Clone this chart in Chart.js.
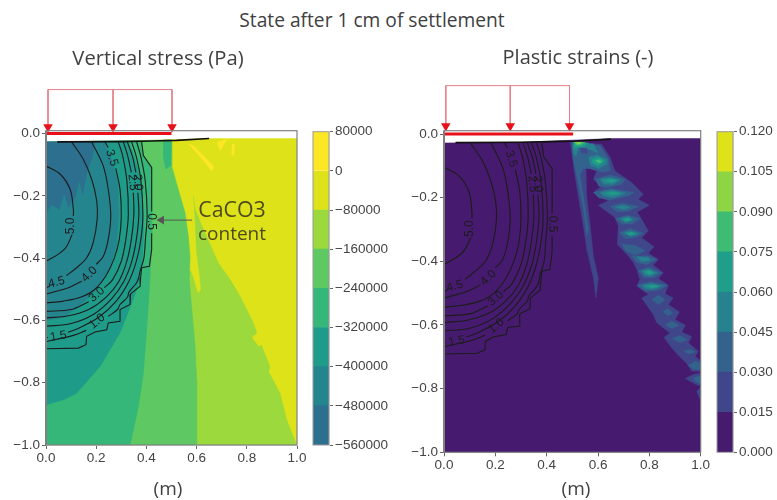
<!DOCTYPE html>
<html>
<head>
<meta charset="utf-8">
<title>State after 1 cm of settlement</title>
<script src="https://cdn.jsdelivr.net/npm/chart.js"></script>
<style>
    html, body { margin: 0; padding: 0; background: #fff; }
    #page { position: relative; width: 777px; height: 500px; overflow: hidden; }
    canvas { position: absolute; filter: blur(0.45px); }
    .txt { position: absolute; color: #404040; font-family: "Open Sans", sans-serif; white-space: nowrap; transform: translate(-50%, -50%); }
</style>
</head>
<body>
<div id="page">
    <canvas id="stressChart" width="312" height="410" style="left:0;top:70px"></canvas>
    <canvas id="stressBar" width="85" height="345" style="left:305px;top:120px"></canvas>
    <canvas id="strainChart" width="316" height="420" style="left:398px;top:70px"></canvas>
    <canvas id="strainBar" width="67" height="350" style="left:710px;top:120px"></canvas>
    <div class="txt" style="left:372px;top:19px;font-size:19.2px">State after 1 cm of settlement</div>
    <div class="txt" style="left:158px;top:57px;font-size:20.2px">Vertical stress (Pa)</div>
    <div class="txt" style="left:578px;top:56px;font-size:20px">Plastic strains (-)</div>
    <div class="txt" style="left:168px;top:488px;font-size:19px">(m)</div>
    <div class="txt" style="left:576px;top:488px;font-size:19px">(m)</div>
    <div class="txt" style="left:232px;top:208px;font-size:21.3px;color:#4f4a1c">CaCO3</div>
    <div class="txt" style="left:232px;top:233px;font-size:19px;color:#4f4a1c">content</div>
</div>
<script>
// tick labels
const xTicks = [0, 0.2, 0.4, 0.6, 0.8, 1];
const yTicks = [0, -0.2, -0.4, -0.6, -0.8, -1];

// colour bars
const stressLevels = [-560000, -480000, -400000, -320000, -240000, -160000, -80000, 0, 80000];
const stressColors = ["#2c6f8e", "#25858e", "#1e9c89", "#35b779", "#5ec962", "#9bd93c", "#dde318", "#fde725"];
const strainLevels = [0, 0.015, 0.03, 0.045, 0.06, 0.075, 0.09, 0.105, 0.12];
const strainColors = ["#461a6e", "#40468a", "#33638d", "#26828e", "#1f9e89", "#3fbc73", "#8dd544", "#dde318"];

// vertical stress regions as [x, y]
const stressDomain = [[0, -0.027], [0.3, -0.025], [0.65, -0.016], [1, -0.016], [1, -1], [0, -1]];
const stressPeaks = [
    [[0.568, -0.034], [0.588, -0.04], [0.668, -0.105], [0.661, -0.12], [0.628, -0.088]],
    [[0.681, -0.029], [0.721, -0.018], [0.693, -0.056]],
    [[0.741, -0.034], [0.752, -0.034], [0.748, -0.072], [0.739, -0.066]]
];
const stressLime = [[0.587, -0.2], [0.594, -0.243], [0.627, -0.308], [0.686, -0.415], [0.733, -0.469], [0.773, -0.522],
    [0.826, -0.608], [0.84, -0.64], [0.82, -0.655], [0.848, -0.685], [0.858, -0.68], [0.892, -0.748], [0.887, -0.765],
    [0.932, -0.833], [0.959, -0.92], [0.998, -1], [0, -1], [0, -0.45], [0.56, -0.45], [0.575, -0.44], [0.585, -0.46],
    [0.605, -0.515], [0.618, -0.5], [0.61, -0.44], [0.6, -0.38], [0.595, -0.3]];
const stressGreen = [[0, -0.027], [0.5, -0.021], [0.501, -0.104], [0.527, -0.179], [0.554, -0.254], [0.567, -0.329],
    [0.574, -0.394], [0.571, -0.469], [0.58, -0.555], [0.594, -0.683], [0.6, -0.79], [0.6, -1], [0, -1]];
const stressMedium = [[0, -0.027], [0.375, -0.024], [0.388, -0.07], [0.421, -0.11], [0.421, -0.33], [0.414, -0.469],
    [0.401, -0.63], [0.388, -0.769], [0.368, -0.877], [0.335, -1], [0, -1]];
const stressSpur = [[0.467, -0.021], [0.5, -0.021], [0.497, -0.104], [0.477, -0.114], [0.467, -0.071]];
const stressTeal = [[0, -0.027], [0.327, -0.024], [0.355, -0.08], [0.38, -0.15], [0.39, -0.3], [0.385, -0.4], [0.375, -0.469],
    [0.347, -0.533], [0.295, -0.64], [0.215, -0.748], [0.122, -0.834], [0.069, -0.855], [0, -0.871]];
const stressBlueTeal = [[0, -0.6], [0.07, -0.59], [0.14, -0.55], [0.2, -0.5], [0.25, -0.44], [0.28, -0.36], [0.29, -0.26],
    [0.285, -0.15], [0.26, -0.08], [0.235, -0.027], [0, -0.027]];
const stressDeep = [[0, -0.027], [0.195, -0.027], [0.182, -0.082], [0.162, -0.125], [0.146, -0.195], [0.133, -0.147],
    [0.116, -0.205], [0.089, -0.237], [0.072, -0.189], [0.053, -0.243], [0.023, -0.227], [0, -0.253]];

// plastic strain regions, one list per colour band
const strainDomain = [[0, -0.028], [0.3, -0.026], [0.66, -0.014], [1, -0.014], [1, -1], [0, -1]];
const plumeBand2 = [
    [[0.491, -0.026], [0.614, -0.032], [0.647, -0.073], [0.666, -0.116], [0.731, -0.152], [0.776, -0.189], [0.757, -0.205],
     [0.8, -0.224], [0.753, -0.245], [0.77, -0.268], [0.796, -0.305], [0.77, -0.326], [0.818, -0.354], [0.796, -0.375],
     [0.835, -0.394], [0.815, -0.412], [0.855, -0.436], [0.835, -0.454], [0.874, -0.475], [0.861, -0.502], [0.893, -0.515],
     [0.874, -0.536], [0.917, -0.559], [0.9, -0.583], [0.941, -0.601], [0.926, -0.622], [0.965, -0.636], [0.952, -0.656],
     [0.991, -0.683], [0.978, -0.699], [1, -0.712], [1, -0.745], [0.965, -0.745], [0.945, -0.72], [0.919, -0.7], [0.893, -0.678],
     [0.857, -0.639], [0.88, -0.625], [0.829, -0.593], [0.815, -0.567], [0.77, -0.515], [0.796, -0.504], [0.751, -0.478],
     [0.763, -0.457], [0.751, -0.425], [0.738, -0.404], [0.712, -0.378], [0.675, -0.347], [0.679, -0.289], [0.666, -0.262],
     [0.601, -0.224], [0.64, -0.21], [0.582, -0.184], [0.614, -0.163], [0.582, -0.142], [0.595, -0.116], [0.553, -0.105],
     [0.556, -0.194], [0.571, -0.299], [0.582, -0.384], [0.601, -0.452], [0.592, -0.515], [0.582, -0.452], [0.556, -0.362],
     [0.543, -0.289], [0.523, -0.194], [0.504, -0.1]],
    [[0.939, -0.769], [0.972, -0.755], [1, -0.752], [1, -0.792], [0.975, -0.785]],
    [[0.984, -0.809], [1, -0.795], [1, -0.84]]
];
const plumeBand3 = [
    [[0.498, -0.028], [0.608, -0.037], [0.641, -0.079], [0.647, -0.115], [0.615, -0.119], [0.569, -0.108], [0.543, -0.108],
     [0.53, -0.126], [0.546, -0.21], [0.563, -0.299], [0.556, -0.32], [0.543, -0.236], [0.517, -0.131], [0.501, -0.068]],
    [[0.589, -0.142], [0.647, -0.129], [0.706, -0.142], [0.693, -0.158], [0.634, -0.168], [0.602, -0.163]],
    [[0.582, -0.184], [0.647, -0.171], [0.741, -0.184], [0.719, -0.194], [0.647, -0.207], [0.602, -0.2]],
    [[0.647, -0.228], [0.693, -0.217], [0.758, -0.228], [0.719, -0.242], [0.673, -0.245]],
    [[0.667, -0.266], [0.712, -0.255], [0.764, -0.266], [0.732, -0.283], [0.693, -0.283]],
    [[0.683, -0.31], [0.725, -0.297], [0.777, -0.312], [0.745, -0.325], [0.706, -0.329]],
    [[0.693, -0.346], [0.745, -0.35], [0.784, -0.367], [0.745, -0.381], [0.706, -0.367]],
    [[0.731, -0.383], [0.796, -0.383], [0.829, -0.394], [0.79, -0.41], [0.751, -0.404]],
    [[0.757, -0.43], [0.796, -0.418], [0.848, -0.436], [0.816, -0.451], [0.777, -0.451]],
    [[0.753, -0.475], [0.803, -0.464], [0.87, -0.475], [0.835, -0.491], [0.783, -0.494]],
    [[0.809, -0.52], [0.835, -0.506], [0.861, -0.52], [0.835, -0.536]],
    [[0.852, -0.559], [0.87, -0.548], [0.891, -0.562], [0.874, -0.572]],
    [[0.861, -0.6], [0.887, -0.588], [0.917, -0.601], [0.887, -0.611]],
    [[0.887, -0.643], [0.917, -0.633], [0.948, -0.646], [0.917, -0.655]],
    [[0.933, -0.682], [0.959, -0.677], [0.978, -0.685], [0.952, -0.691]],
    [[0.952, -0.727], [0.978, -0.714], [1, -0.719], [1, -0.74], [0.972, -0.74]],
    [[0.97, -0.765], [1, -0.76], [1, -0.785], [0.98, -0.778]]
];
const plumeBand4 = [
    [[0.501, -0.028], [0.582, -0.031], [0.6, -0.06], [0.57, -0.048], [0.525, -0.042], [0.514, -0.07], [0.503, -0.06]],
    [[0.563, -0.073], [0.595, -0.066], [0.634, -0.079], [0.634, -0.095], [0.602, -0.108], [0.569, -0.098]],
    [[0.608, -0.142], [0.647, -0.137], [0.686, -0.144], [0.66, -0.158], [0.621, -0.158]],
    [[0.608, -0.184], [0.654, -0.176], [0.706, -0.186], [0.66, -0.2], [0.621, -0.194]],
    [[0.667, -0.229], [0.699, -0.224], [0.725, -0.231], [0.699, -0.238]],
    [[0.686, -0.266], [0.719, -0.26], [0.738, -0.27], [0.706, -0.278]],
    [[0.699, -0.31], [0.728, -0.305], [0.758, -0.313], [0.725, -0.322]],
    [[0.751, -0.386], [0.796, -0.389], [0.803, -0.397], [0.77, -0.401]],
    [[0.77, -0.43], [0.8, -0.425], [0.829, -0.436], [0.803, -0.446], [0.78, -0.443]],
    [[0.77, -0.476], [0.809, -0.47], [0.848, -0.477], [0.816, -0.488], [0.783, -0.485]]
];
const plumeBand5 = [
    [[0.504, -0.026], [0.563, -0.028], [0.543, -0.039], [0.514, -0.042], [0.507, -0.047]],
    [[0.576, -0.081], [0.602, -0.073], [0.624, -0.084], [0.602, -0.1], [0.579, -0.091]],
    [[0.621, -0.147], [0.654, -0.142], [0.673, -0.147], [0.647, -0.152]],
    [[0.628, -0.186], [0.66, -0.182], [0.686, -0.187], [0.654, -0.192]],
    [[0.699, -0.268], [0.719, -0.265], [0.728, -0.27], [0.709, -0.274]],
    [[0.712, -0.312], [0.732, -0.309], [0.745, -0.314], [0.722, -0.318]],
    [[0.783, -0.433], [0.803, -0.43], [0.816, -0.437], [0.796, -0.441]],
    [[0.787, -0.478], [0.816, -0.475], [0.835, -0.479], [0.809, -0.483]]
];
const plumeBand6 = [
    [[0.507, -0.026], [0.55, -0.026], [0.53, -0.035], [0.513, -0.035]],
    [[0.589, -0.084], [0.605, -0.081], [0.615, -0.087], [0.602, -0.092]]
];
const plumeBand7 = [[[0.51, -0.026], [0.537, -0.026], [0.523, -0.032]]];
const plumeHole = [[0.53, -0.045], [0.556, -0.045], [0.559, -0.06], [0.537, -0.06]];

// CaCO3 contour lines, a null is a break where a label sits
const contour50 = [[0, -0.104], [0.056, -0.13], [0.096, -0.179], [0.109, -0.243], [0.109, -0.265], null, [0.104, -0.325], [0.08, -0.365], [0.048, -0.388], [0, -0.41]];
const contour45 = [[0.102, -0.027], [0.148, -0.082], [0.182, -0.147], [0.202, -0.216], [0.204, -0.275], [0.188, -0.35], [0.162, -0.399], [0.122, -0.431], [0.082, -0.456], null, [0.015, -0.49], [0, -0.495]];
const contour40 = [[0.182, -0.027], [0.228, -0.104], [0.248, -0.179], [0.258, -0.265], [0.248, -0.34], [0.228, -0.395], [0.2, -0.42], null, [0.142, -0.474], [0.089, -0.495], [0, -0.515]];
const contour35 = [[0.235, -0.027], [0.248, -0.045], null, [0.278, -0.112], [0.295, -0.18], [0.3, -0.265], [0.292, -0.34], [0.272, -0.4], [0.24, -0.455], [0.195, -0.5], [0.14, -0.525], [0.07, -0.538], [0, -0.544]];
const contour30 = [[0.288, -0.027], [0.305, -0.07], [0.322, -0.15], [0.328, -0.26], [0.318, -0.34], [0.3, -0.41], [0.265, -0.47], [0.232, -0.495], null, [0.17, -0.54], [0.1, -0.565], [0, -0.571]];
const contour25 = [[0.308, -0.027], [0.325, -0.07], [0.34, -0.125], null, [0.348, -0.19], [0.35, -0.26], [0.34, -0.34], [0.322, -0.41], [0.29, -0.475], [0.24, -0.525], [0.17, -0.565], [0.09, -0.585], [0, -0.592]];
const contour20 = [[0.324, -0.027], [0.345, -0.075], [0.358, -0.125], null, [0.366, -0.19], [0.37, -0.26], [0.36, -0.34], [0.342, -0.41], [0.31, -0.475], [0.262, -0.53], [0.19, -0.58], [0.1, -0.61], [0, -0.619]];
const contour15 = [[0.341, -0.027], [0.36, -0.075], [0.378, -0.15], [0.386, -0.26], [0.378, -0.34], [0.36, -0.41], [0.33, -0.475], [0.278, -0.54], [0.21, -0.59], [0.13, -0.625], [0.088, -0.638], null, [0.008, -0.655], [0, -0.655]];
const contour10 = [[0.361, -0.027], [0.378, -0.075], [0.395, -0.15], [0.403, -0.26], [0.396, -0.34], [0.39, -0.4], [0.375, -0.441], [0.37, -0.46], [0.361, -0.479], [0.33, -0.51], [0.325, -0.525], [0.295, -0.549], [0.285, -0.565], [0.248, -0.587], null, [0.16, -0.632], [0.109, -0.648], [0, -0.668]];
const contour05 = [[0.381, -0.027], [0.388, -0.071], [0.421, -0.109], [0.421, -0.25], null, [0.421, -0.32], [0.421, -0.372], [0.412, -0.426], [0.381, -0.431], [0.377, -0.463], [0.375, -0.49], [0.337, -0.515], [0.335, -0.549], [0.295, -0.565], [0.295, -0.603], [0.248, -0.608], [0.242, -0.63], [0.195, -0.637], [0.162, -0.651], [0.159, -0.678], [0.129, -0.689], [0, -0.691]];
const settlementLine = [[0.045, -0.027], [0.3, -0.026], [0.42, -0.024], [0.52, -0.022], [0.65, -0.016]];

// contour labels: text, x, y, angle in degrees
const contourLabels = [
    ["5.0", 0.1, -0.297, -90], ["4.5", 0.042, -0.478, -15], ["4.0", 0.173, -0.452, -45], ["3.5", 0.262, -0.078, 72],
    ["2.5", 0.345, -0.157, 85], ["2.0", 0.366, -0.157, 85], ["3.0", 0.202, -0.517, -42], ["1.0", 0.204, -0.603, -40],
    ["1.5", 0.049, -0.651, -10], ["0.5", 0.421, -0.283, 90]
];

// load arrows and the CaCO3 pointer
const stressLoadTop = 0.141, stressLoadTip = 0.021, strainLoadTop = 0.152, strainLoadTip = 0.025;
const stressArrowX = [0.008, 0.267, 0.502], strainArrowX = [0.007, 0.258, 0.489];
const stressBar = [[0, 0], [0.5, 0]], strainBar = [[0, 0], [0.503, 0]];
const pointerLine = [[0.582, -0.278], [0.46, -0.278]];

function toPoints(list) {
    return list.map(function (p) { return p ? { x: p[0], y: p[1] } : { x: NaN, y: NaN }; });
}

function region(list, color) {
    return {
        data: toPoints(list), showLine: true, fill: "shape", backgroundColor: color, borderColor: color,
        borderWidth: 0.5, pointRadius: 0, tension: 0
    };
}

function line(list, color, width, tension) {
    return {
        data: toPoints(list), showLine: true, fill: false, borderColor: color,
        borderWidth: width, pointRadius: 0, tension: tension || 0, clip: false
    };
}

function loadSet(arrowX, top, tip, bar) {
    let sets = [line([[arrowX[0], top], [arrowX[2], top]], "#e5808a", 1)];
    arrowX.forEach(function (x) {
        sets.push(line([[x, top], [x, tip]], "#e5808a", 1));
        sets.push({
            data: toPoints([[x, tip]]), pointStyle: "triangle", rotation: 180, pointRadius: 5.5,
            backgroundColor: "#e8101a", borderColor: "#e8101a", borderWidth: 0, clip: false
        });
    });
    sets.push(line(bar, "#e8101a", 3.2));
    return sets;
}

function contourSets() {
    return [contour50, contour45, contour40, contour35, contour30, contour25, contour20, contour15, contour10]
        .map(function (c) { return line(c, "#1c1c1c", 1.1, 0.35); })
        .concat([line(contour05, "#1c1c1c", 1.1), line(settlementLine, "#111", 1.6)]);
}

// draws the frame and the contour labels through the scales
const contourLabelPlugin = {
    id: "contourLabelPlugin",
    afterDatasetsDraw: function (chart) {
        let ctx = chart.ctx, a = chart.chartArea;
        ctx.save();
        ctx.strokeStyle = "#808080";
        ctx.lineWidth = 1.2;
        ctx.strokeRect(a.left, a.top, a.right - a.left, a.bottom - a.top);
        ctx.lineWidth = 2;
        ctx.beginPath();
        ctx.moveTo(a.left, a.top);
        ctx.lineTo(a.left, a.bottom);
        ctx.stroke();
        ctx.fillStyle = "#1c1c1c";
        ctx.font = "12px 'Liberation Sans'";
        ctx.textAlign = "center";
        ctx.textBaseline = "middle";
        contourLabels.forEach(function (l) {
            ctx.save();
            ctx.translate(chart.scales.x.getPixelForValue(l[1]), chart.scales.y.getPixelForValue(l[2]));
            ctx.rotate(l[3] * Math.PI / 180);
            ctx.fillText(l[0], 0, 0);
            ctx.restore();
        });
        ctx.restore();
    }
};

const barFramePlugin = {
    id: "barFramePlugin",
    afterDatasetsDraw: function (chart) {
        let a = chart.chartArea;
        chart.ctx.save();
        chart.ctx.strokeStyle = "#999";
        chart.ctx.strokeRect(a.left, a.top, a.right - a.left, a.bottom - a.top);
        chart.ctx.restore();
    }
};

function signed(v, digits) {
    return (v < 0 ? "\u2212" : "") + Math.abs(v).toFixed(digits);
}

function axisFont() {
    return { family: "'Liberation Sans'", size: 13.5 };
}

function plotChart(id, datasets, yMax, pad, xHeight) {
    return new Chart(document.getElementById(id), {
        type: "scatter",
        data: { datasets: datasets.slice().reverse() },
        options: {
            responsive: false,
            animation: false,
            devicePixelRatio: 1,
            layout: { padding: pad },
            plugins: { legend: { display: false }, tooltip: { enabled: false } },
            scales: {
                x: {
                    type: "linear", min: 0, max: 1,
                    afterBuildTicks: function (s) { s.ticks = xTicks.map(function (v) { return { value: v }; }); },
                    afterFit: function (s) { s.height = xHeight; },
                    grid: { drawOnChartArea: false, tickLength: 4, tickColor: "#666" },
                    ticks: { color: "#444", font: axisFont(), padding: 1, maxRotation: 0, autoSkip: false,
                        callback: function (v) { return signed(v, 1); } }
                },
                y: {
                    type: "linear", min: -1, max: yMax,
                    afterBuildTicks: function (s) { s.ticks = yTicks.map(function (v) { return { value: v }; }); },
                    afterFit: function (s) { s.width = 46; },
                    grid: { drawOnChartArea: false, tickLength: 4, tickColor: "#666" },
                    ticks: { color: "#444", font: axisFont(), padding: 2, autoSkip: false,
                        callback: function (v) { return signed(v, 1); } }
                }
            }
        },
        plugins: [contourLabelPlugin]
    });
}

function colorBar(id, levels, colors, digits, axisWidth, pad) {
    return new Chart(document.getElementById(id), {
        type: "bar",
        data: {
            labels: ["bar"],
            datasets: colors.map(function (c, i) {
                return { data: [[levels[i], levels[i + 1]]], backgroundColor: c, barPercentage: 1, categoryPercentage: 1, grouped: false };
            })
        },
        options: {
            responsive: false,
            animation: false,
            devicePixelRatio: 1,
            layout: { padding: pad },
            plugins: { legend: { display: false }, tooltip: { enabled: false } },
            scales: {
                x: { display: false },
                y: {
                    position: "right", min: levels[0], max: levels[levels.length - 1],
                    afterBuildTicks: function (s) { s.ticks = levels.map(function (v) { return { value: v }; }); },
                    afterFit: function (s) { s.width = axisWidth; },
                    grid: { drawOnChartArea: false, tickLength: 4, tickColor: "#666" },
                    ticks: { color: "#444", font: axisFont(), padding: 2, autoSkip: false,
                        callback: function (v) { return signed(v, digits); } }
                }
            }
        },
        plugins: [barFramePlugin]
    });
}

let stressSets = [region(stressDomain, stressColors[6])]
    .concat(stressPeaks.map(function (p) { return region(p, stressColors[7]); }))
    .concat([
        region(stressLime, stressColors[5]),
        region(stressGreen, stressColors[4]),
        region(stressMedium, stressColors[3]),
        region(stressSpur, stressColors[3]),
        region(stressTeal, stressColors[2]),
        region(stressBlueTeal, stressColors[1]),
        region(stressDeep, stressColors[0])
    ])
    .concat(contourSets())
    .concat([
        line(pointerLine, "#555", 1),
        { data: toPoints([pointerLine[1]]), pointStyle: "triangle", rotation: 270, pointRadius: 5, backgroundColor: "#555", borderWidth: 0 }
    ])
    .concat(loadSet(stressArrowX, stressLoadTop, stressLoadTip, stressBar));

let strainSets = [region(strainDomain, strainColors[0])];
[plumeBand2, plumeBand3, plumeBand4, plumeBand5, plumeBand6, plumeBand7].forEach(function (band, i) {
    band.forEach(function (p) { strainSets.push(region(p, strainColors[i + 1])); });
});
strainSets.push(region(plumeHole, strainColors[1]));
strainSets = strainSets.concat(contourSets()).concat(loadSet(strainArrowX, strainLoadTop, strainLoadTip, strainBar));

plotChart("stressChart", stressSets, 0.009, { top: 60.7, right: 15, left: 0, bottom: 0 }, 35);
plotChart("strainChart", strainSets, 0.0104, { top: 60.7, right: 13.3, left: 0, bottom: 0 }, 37.7);
colorBar("stressBar", stressLevels, stressColors, 0, 61, { top: 11.7, bottom: 20, left: 8, right: 0 });
colorBar("strainBar", strainLevels, strainColors, 3, 44, { top: 11.7, bottom: 17.7, left: 7, right: 0 });
</script>
</body>
</html>
